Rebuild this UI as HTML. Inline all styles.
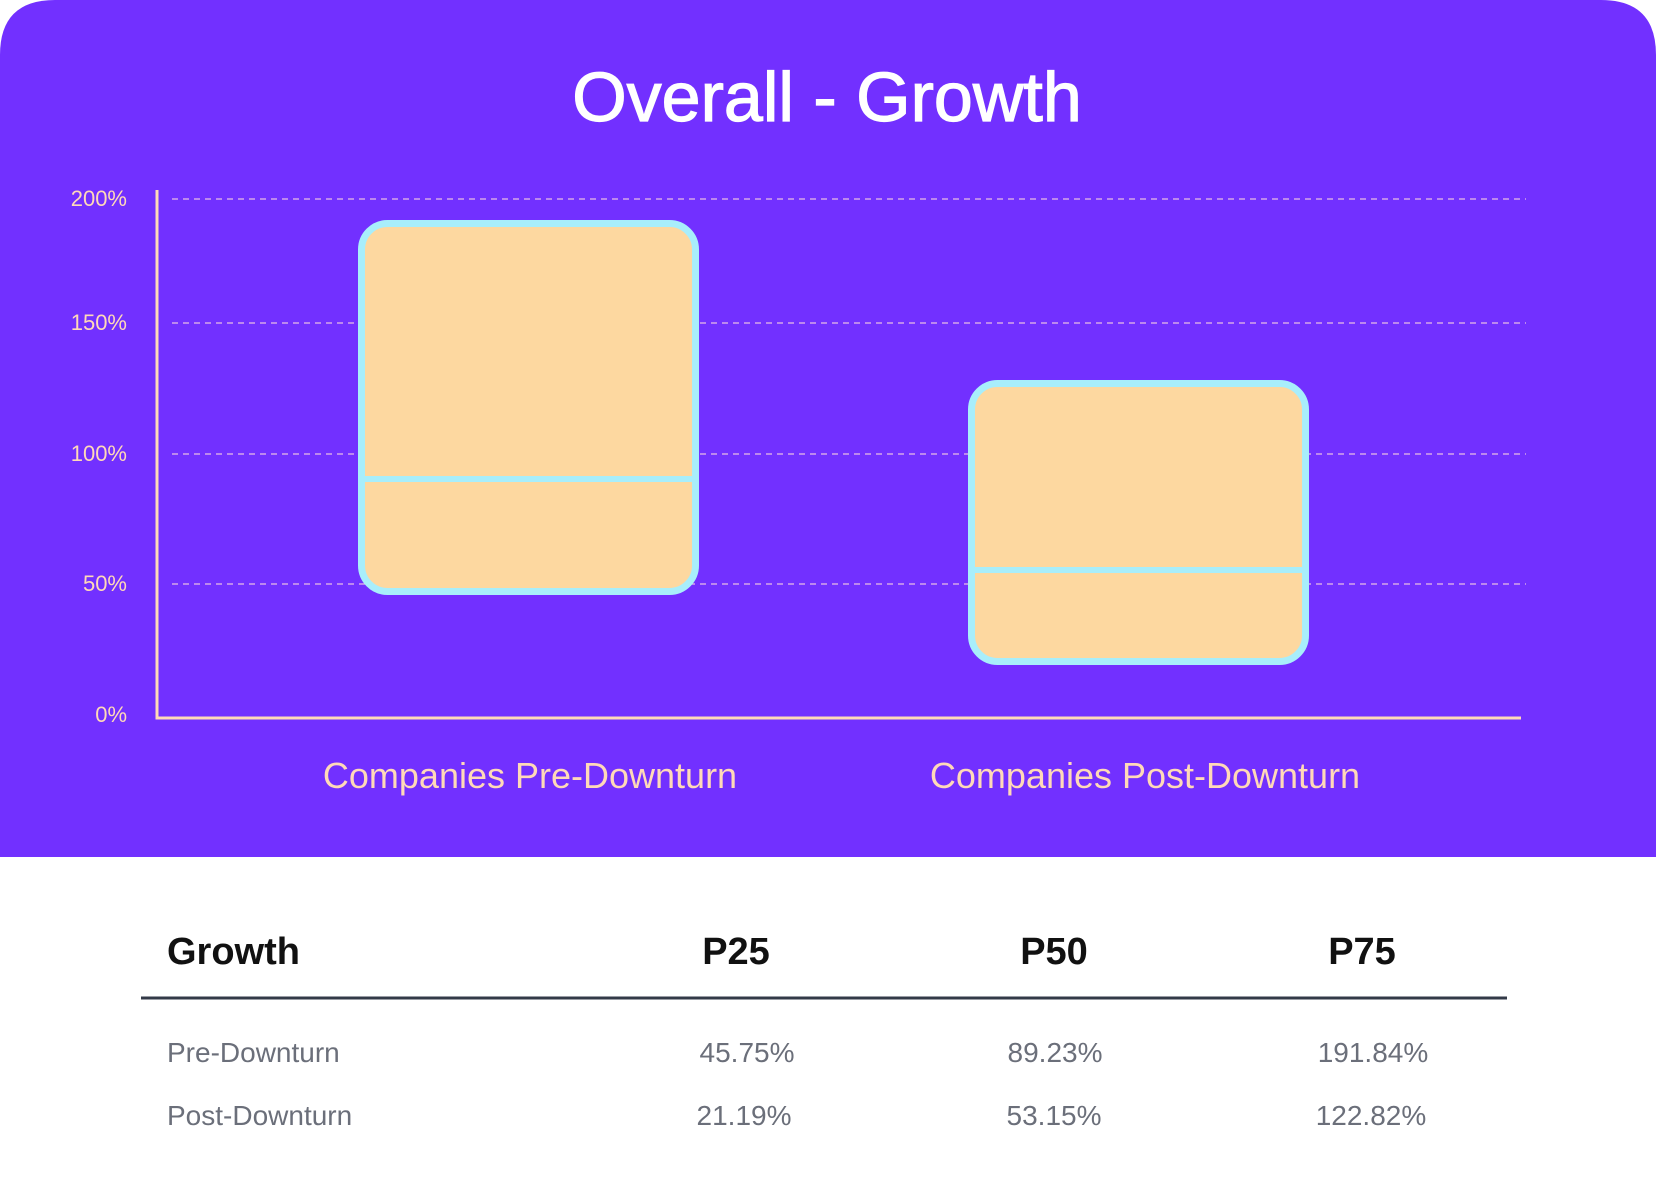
<!DOCTYPE html>
<html><head><meta charset="utf-8"><style>
html,body{margin:0;padding:0;background:#fff;width:1656px;height:1194px;overflow:hidden}
svg{display:block}
</style></head><body>
<svg width="1656" height="1194" viewBox="0 0 1656 1194" xmlns="http://www.w3.org/2000/svg" font-family="Liberation Sans, sans-serif">
<path d="M0 55 Q0 0 55 0 L1601 0 Q1656 0 1656 55 L1656 857 L0 857 Z" fill="#7230FF"/>
<text x="827" y="121" text-anchor="middle" font-size="70" fill="#fff" stroke="#fff" stroke-width="1.2">Overall - Growth</text>
<g stroke="#F6CDE0" stroke-width="1.2" stroke-dasharray="6,5" opacity="0.9">
<line x1="172" y1="199" x2="1526" y2="199"/>
<line x1="172" y1="323" x2="1526" y2="323"/>
<line x1="172" y1="454" x2="1526" y2="454"/>
<line x1="172" y1="584" x2="1526" y2="584"/>
</g>
<g font-size="22" fill="#FFD9B8" text-anchor="end">
<text x="127" y="206">200%</text>
<text x="127" y="330">150%</text>
<text x="127" y="461">100%</text>
<text x="127" y="591">50%</text>
<text x="127" y="722">0%</text>
</g>
<polyline points="157,190 157,718 1521,718" fill="none" stroke="#FFD9B8" stroke-width="3"/>
<rect x="361.5" y="223.5" width="334" height="368" rx="26" fill="#FDD8A0" stroke="#A8EEFB" stroke-width="7"/>
<line x1="362" y1="479" x2="695" y2="479" stroke="#A8EEFB" stroke-width="6"/>
<rect x="971.5" y="383.5" width="334" height="278" rx="26" fill="#FDD8A0" stroke="#A8EEFB" stroke-width="7"/>
<line x1="972" y1="570" x2="1305" y2="570" stroke="#A8EEFB" stroke-width="6"/>
<g font-size="36" fill="#FFD9B8" text-anchor="middle">
<text x="530" y="788">Companies Pre-Downturn</text>
<text x="1145" y="788">Companies Post-Downturn</text>
</g>
<g font-size="38" font-weight="bold" fill="#111">
<text x="167" y="964">Growth</text>
<text x="736" y="964" text-anchor="middle">P25</text>
<text x="1054" y="964" text-anchor="middle">P50</text>
<text x="1362" y="964" text-anchor="middle">P75</text>
</g>
<line x1="141" y1="998" x2="1507" y2="998" stroke="#333a48" stroke-width="3"/>
<g font-size="28" fill="#6b6f7a">
<text x="167" y="1062">Pre-Downturn</text>
<text x="167" y="1125">Post-Downturn</text>
<g text-anchor="middle">
<text x="747" y="1062">45.75%</text>
<text x="1055" y="1062">89.23%</text>
<text x="1373" y="1062">191.84%</text>
<text x="744" y="1125">21.19%</text>
<text x="1054" y="1125">53.15%</text>
<text x="1371" y="1125">122.82%</text>
</g></g>
</svg>
</body></html>
